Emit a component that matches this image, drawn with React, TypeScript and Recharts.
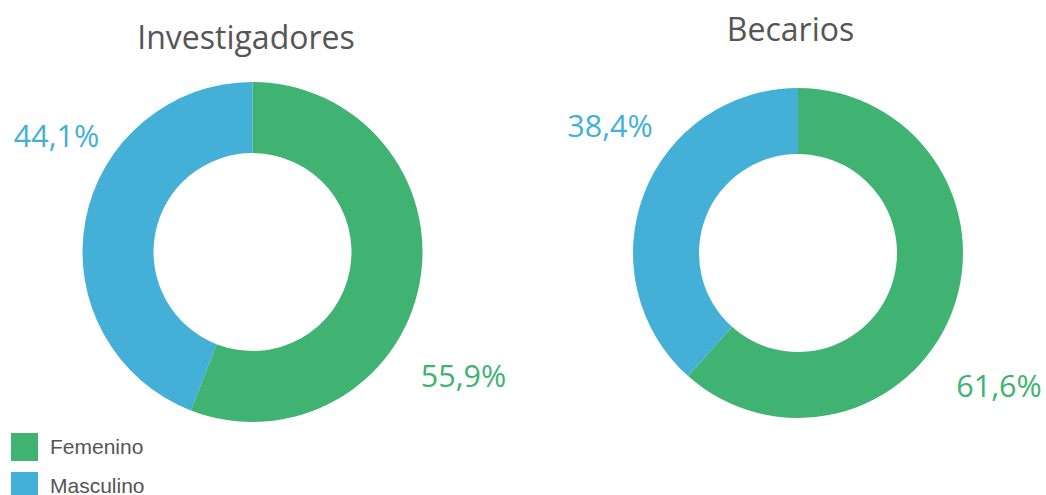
import React from 'react';
import { PieChart, Pie, Cell, Legend } from 'recharts';

// share of each gender, in percent
const genders = ['Femenino', 'Masculino'];
const investigadores = [55.9, 44.1];
const becarios = [61.6, 38.4];
const titles = ['Investigadores', 'Becarios'];

const COLORS = ['#40b372', '#44afd7'];
const TEXT = '#555555';

// label offsets from the donut centre (dx, baseline dy), per slice
const LABEL_OFFSETS = [
  [[211, 135], [-196, -105]],
  [[201, 144], [-188, -116]],
];

const toRows = (values: number[]) => genders.map((name, i) => ({ name, value: values[i] }));

const makeLabel = (chartIdx: number) => (props: any) => {
  const { cx, cy, index, value } = props;
  const [dx, dy] = LABEL_OFFSETS[chartIdx][index];
  return (
    <text
      x={cx + dx}
      y={cy + dy}
      textAnchor="middle"
      fill={COLORS[index]}
      fontFamily="'Open Sans', sans-serif"
      fontSize={30.5}
    >
      {value.toFixed(1).replace('.', ',')}%
    </text>
  );
};

const LegendContent = () => (
  <div style={{ fontFamily: "'Liberation Sans', Arial, sans-serif", fontSize: 21, color: TEXT }}>
    {genders.map((g, i) => (
      <div key={g} style={{ display: 'flex', alignItems: 'center', height: 39 }}>
        <div style={{ width: 27, height: 28, background: COLORS[i], marginRight: 12 }} />
        <span>{g}</span>
      </div>
    ))}
  </div>
);

export default function App() {
  return (
    <div style={{ position: 'absolute', left: 0, top: 0, width: 1046, height: 495, background: '#fff', overflow: 'hidden' }}>
      <PieChart width={1046} height={495} margin={{ top: 0, right: 0, bottom: 0, left: 0 }}>
        <Pie
          data={toRows(investigadores)}
          dataKey="value"
          cx={252.5}
          cy={252}
          innerRadius={99}
          outerRadius={170}
          startAngle={90}
          endAngle={-270}
          stroke="none"
          labelLine={false}
          label={makeLabel(0)}
          isAnimationActive={false}
        >
          {genders.map((g, i) => <Cell key={g} fill={COLORS[i]} />)}
        </Pie>
        <Pie
          data={toRows(becarios)}
          dataKey="value"
          cx={798}
          cy={253}
          innerRadius={99}
          outerRadius={165}
          startAngle={90}
          endAngle={-270}
          stroke="none"
          labelLine={false}
          label={makeLabel(1)}
          isAnimationActive={false}
        >
          {genders.map((g, i) => <Cell key={g} fill={COLORS[i]} />)}
        </Pie>
        <Legend
          content={<LegendContent />}
          wrapperStyle={{ position: 'absolute', left: 11, top: 427, width: 200 }}
        />
      </PieChart>
      <svg width={1046} height={495} style={{ position: 'absolute', left: 0, top: 0, pointerEvents: 'none' }}>
        <text x={246} y={49} textAnchor="middle" fill={TEXT} fontFamily="'Open Sans', sans-serif" fontSize={32}>
          {titles[0]}
        </text>
        <text x={790.5} y={41} textAnchor="middle" fill={TEXT} fontFamily="'Open Sans', sans-serif" fontSize={32}>
          {titles[1]}
        </text>
      </svg>
    </div>
  );
}
